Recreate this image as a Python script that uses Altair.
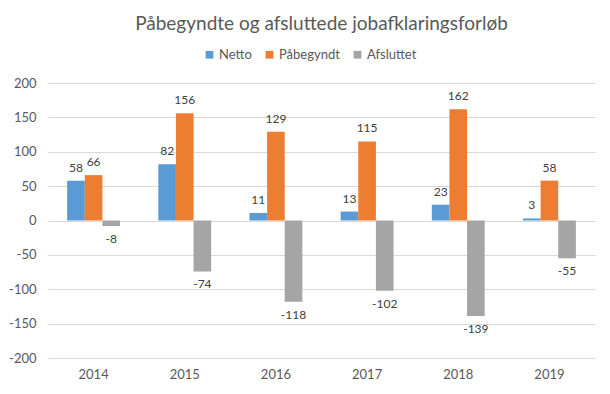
import altair as alt
import pandas as pd

years = ["2014", "2015", "2016", "2017", "2018", "2019"]
netto = [58, 82, 11, 13, 23, 3]
paabegyndt = [66, 156, 129, 115, 162, 58]
afsluttet = [-8, -74, -118, -102, -139, -55]
series = ["Netto", "Påbegyndt", "Afsluttet"]
colors = ["#5B9BD5", "#ED7D31", "#A5A5A5"]

rows = []
for i, y in enumerate(years):
    for s, vals in zip(series, [netto, paabegyndt, afsluttet]):
        rows.append({"year": y, "series": s, "value": vals[i]})
df = pd.DataFrame(rows)

FONT = "Lato"

x = alt.X("year:N", sort=years, title=None,
          scale=alt.Scale(paddingInner=0.42, paddingOuter=0.21),
          axis=alt.Axis(labelAngle=0, ticks=False, domain=False, labelPadding=10,
                        labelFontSize=13, labelColor="#595959", labelFont=FONT))
xoff = alt.XOffset("series:N", sort=series, scale=alt.Scale(paddingInner=0, paddingOuter=0))
y = alt.Y("value:Q", title=None,
          scale=alt.Scale(domain=[-200, 200], nice=False),
          axis=alt.Axis(values=list(range(-200, 201, 50)), ticks=False, domain=False,
                        labelPadding=12, labelFontSize=13, labelColor="#595959",
                        labelExpr="toString(datum.value)",
                        labelFont=FONT, gridColor="#D9D9D9", grid=True))

bars = alt.Chart(df).mark_bar().encode(
    x=x, xOffset=xoff, y=y,
    color=alt.Color("series:N", sort=series,
                    scale=alt.Scale(domain=series, range=colors),
                    legend=alt.Legend(title=None, orient="none", direction="horizontal",
                                      legendX=155, legendY=-35, symbolType="square",
                                      symbolSize=60, symbolStrokeWidth=0,
                                      labelFontSize=13, labelColor="#595959",
                                      labelFont=FONT, columnPadding=11, symbolOffset=0,
                                      labelOffset=3)),
)

base_text = alt.Chart(df).transform_calculate(label="toString(datum.value)")

pos = base_text.transform_filter("datum.value >= 0").mark_text(
    baseline="bottom", dy=-6, fontSize=12, color="#404040", font=FONT
).encode(x=x, xOffset=xoff, y=y, text="label:N")

neg = base_text.transform_filter("datum.value < 0").mark_text(
    baseline="top", dy=8, fontSize=12, color="#404040", font=FONT
).encode(x=x, xOffset=xoff, y=y, text="label:N")

chart = alt.layer(bars, pos, neg).properties(
    width=547, height=275,
    title=alt.TitleParams("Påbegyndte og afsluttede jobafklaringsforløb", fontSize=19,
                          font=FONT, fontWeight="normal", color="#595959",
                          anchor="middle", frame="group", baseline="bottom", offset=-5),
    autosize=alt.AutoSizeParams(type="none"),
    padding={"left": 40, "top": 75, "right": 7, "bottom": 28},
).configure_view(stroke=None)

chart.save("out.html", embed_options={"renderer": "svg", "actions": False})
